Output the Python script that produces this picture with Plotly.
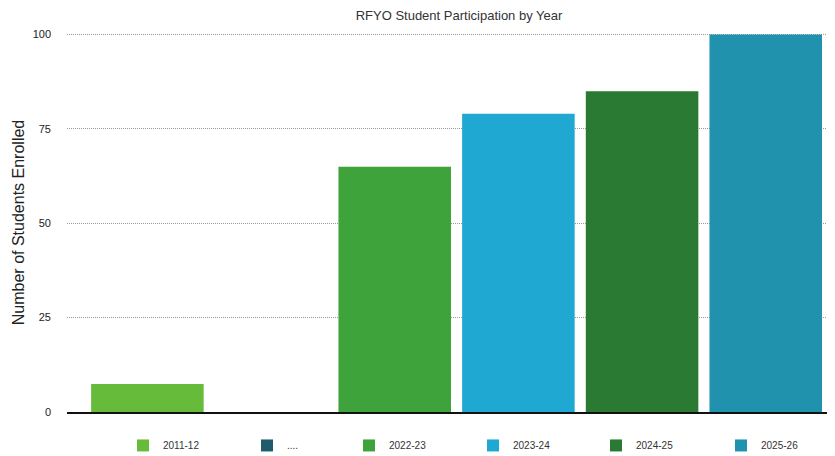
import plotly.graph_objects as go

categories = ["2011-12", "....", "2022-23", "2023-24", "2024-25", "2025-26"]
values = [7.4, 0, 65, 79, 85, 100]
colors = ["#66bb3a", "#1f5c6b", "#3fa33c", "#1ea8d2", "#2b7a34", "#2192ad"]
y_ticks = [0, 25, 50, 75, 100]
legend_px = [147, 271, 373, 497, 620, 745]   # legend swatch centres (page px)

# the page body has an 8px margin, so figure coordinates are page coords - 8
OFF = 8
W, H = 835 - OFF, 456 - OFF
PLOT_L, PLOT_W = 67 - OFF, 768

fig = go.Figure()
layout_legends = {}
for i, (cat, val, col) in enumerate(zip(categories, values, colors)):
    lname = "legend" if i == 0 else f"legend{i + 1}"
    fig.add_trace(go.Bar(
        x=[i], y=[val], name=cat, marker=dict(color=col, line=dict(width=0)),
        width=0.91, showlegend=True, legend=lname,
    ))
    layout_legends[lname] = dict(
        orientation="h", x=(legend_px[i] - 24 - 67) / PLOT_W, xanchor="left",
        y=-0.05, yanchor="top", font=dict(size=10, color="#333"),
        bgcolor="rgba(0,0,0,0)",
    )

fig.update_layout(
    width=W, height=H,
    margin=dict(l=PLOT_L, r=0, t=33 - OFF, b=44, autoexpand=False),
    paper_bgcolor="white", plot_bgcolor="white",
    font=dict(family="Liberation Sans, Arial, sans-serif", color="#222"),
    title=dict(text="RFYO Student Participation by Year", xref="paper",
               x=(459 - 67) / PLOT_W, xanchor="center",
               y=0.983, yanchor="middle", font=dict(size=13, color="#333")),
    barmode="overlay",
    showlegend=True,
    xaxis=dict(range=[-0.65, 5.56], showticklabels=False, showgrid=False,
               showline=True, linecolor="#111", linewidth=2, zeroline=False,
               fixedrange=True, automargin=False),
    yaxis=dict(range=[0, 100.4], tickvals=y_ticks, showgrid=True, automargin=False,
               gridcolor="#9a9a9a", griddash="1px,1px", gridwidth=1, zeroline=False,
               ticklabelstandoff=15, tickfont=dict(size=11, color="#222"),
               title=dict(text="Number of Students Enrolled", font=dict(size=16, color="#222"),
                          standoff=4)),
    **layout_legends,
)

fig.write_html("out.html")
